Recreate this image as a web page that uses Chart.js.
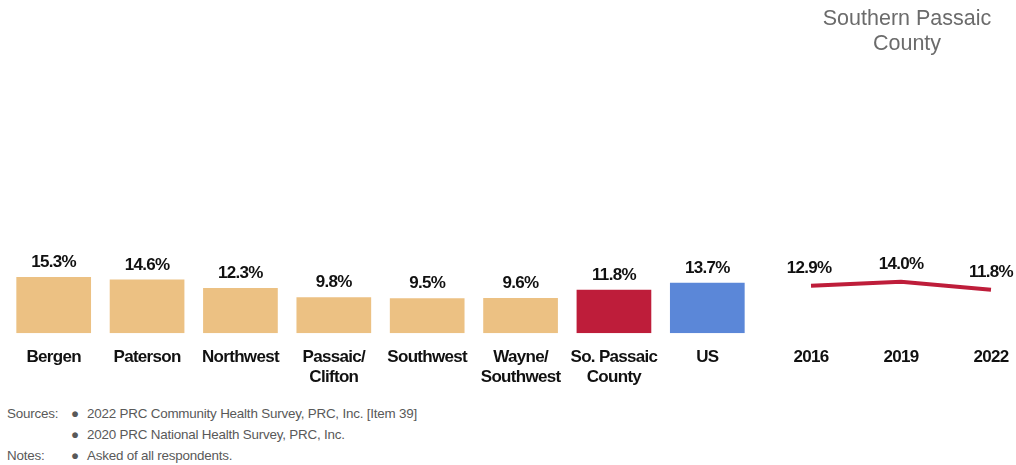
<!DOCTYPE html>
<html>
<head>
<meta charset="utf-8">
<script src="https://cdn.jsdelivr.net/npm/chart.js@4.4.0/dist/chart.umd.min.js"></script>
<style>
  body { margin: 0; background: #fff; width: 1016px; height: 465px; overflow: hidden; position: relative; font-family: 'Liberation Sans', Arial, sans-serif; }
  #barWrap { position: absolute; left: 0; top: 0; width: 760px; height: 402px; }
  #lineWrap { position: absolute; left: 760px; top: 0; width: 270px; height: 402px; }
  #title { position: absolute; left: 790px; top: 6px; width: 234px; text-align: center; color: #6b6b6b; font-size: 21.5px; line-height: 25px; }
  .note { position: absolute; font-size: 13.4px; color: #595959; line-height: 15px; letter-spacing: -0.2px; }
</style>
</head>
<body>
<div id="barWrap"><canvas id="bars"></canvas></div>
<div id="lineWrap"><canvas id="trend"></canvas></div>
<div id="title">Southern Passaic<br>County</div>
<div class="note" style="left:7px; top:406px;">Sources:</div>
<div class="note" style="left:71px; top:406px;">●</div>
<div class="note" style="left:87px; top:406px;">2022 PRC Community Health Survey, PRC, Inc. [Item 39]</div>
<div class="note" style="left:71px; top:427px;">●</div>
<div class="note" style="left:87px; top:427px;">2020 PRC National Health Survey, PRC, Inc.</div>
<div class="note" style="left:7px; top:448px;">Notes:</div>
<div class="note" style="left:71px; top:448px;">●</div>
<div class="note" style="left:87px; top:448px;">Asked of all respondents.</div>
<script>
const areas = [['Bergen'], ['Paterson'], ['Northwest'], ['Passaic/', 'Clifton'], ['Southwest'], ['Wayne/', 'Southwest'], ['So. Passaic', 'County'], ['US']]
const areaValues = [15.3, 14.6, 12.3, 9.8, 9.5, 9.6, 11.8, 13.7]
const areaColors = ['#ecc183', '#ecc183', '#ecc183', '#ecc183', '#ecc183', '#ecc183', '#be1d3a', '#5b87d8']
const years = ['2016', '2019', '2022']
const trendValues = [12.9, 14.0, 11.8]

const yMax = 90.7
const labelFont = { family: "'Liberation Sans', Arial, sans-serif", size: 17, weight: 'bold' }

// tighter letters so the bold labels look like the narrow font of the original
const tightText = {
    id: 'tightText',
    beforeDraw(chart) {
        chart.ctx.letterSpacing = '-0.7px'
    }
}

// draws the percent above every bar / point
const valueLabels = {
    id: 'valueLabels',
    afterDatasetsDraw(chart, args, opts) {
        const ctx = chart.ctx
        const meta = chart.getDatasetMeta(0)
        ctx.save()
        ctx.letterSpacing = '-0.7px'
        ctx.font = 'bold 17px ' + labelFont.family
        ctx.fillStyle = '#111'
        ctx.textAlign = 'center'
        ctx.textBaseline = 'bottom'
        meta.data.forEach((el, i) => {
            const v = chart.data.datasets[0].data[i]
            ctx.fillText(v.toFixed(1) + '%', el.x + (opts.dx ? opts.dx[i] : 0), el.y - opts.gap)
        })
        ctx.restore()
    }
}

new Chart(document.getElementById('bars'), {
    type: 'bar',
    data: {
        labels: areas,
        datasets: [{
            data: areaValues,
            backgroundColor: areaColors,
            categoryPercentage: 1,
            barPercentage: 0.8
        }]
    },
    options: {
        responsive: true,
        maintainAspectRatio: false,
        animation: false,
        layout: { padding: { left: 7, right: 6, top: 0, bottom: 0 } },
        plugins: {
            legend: { display: false },
            tooltip: { enabled: false },
            valueLabels: { gap: 6 }
        },
        scales: {
            x: {
                grid: { display: false, drawTicks: false },
                border: { display: false },
                ticks: { color: '#111', font: labelFont, padding: 14, maxRotation: 0, autoSkip: false }
            },
            y: { display: false, min: 0, max: yMax }
        }
    },
    plugins: [tightText, valueLabels]
});

new Chart(document.getElementById('trend'), {
    type: 'line',
    data: {
        labels: years,
        datasets: [{
            data: trendValues,
            borderColor: '#be1d3a',
            borderWidth: 4,
            pointRadius: 0,
            tension: 0
        }]
    },
    options: {
        responsive: true,
        maintainAspectRatio: false,
        animation: false,
        layout: { padding: { left: 51, right: 39, top: 0, bottom: 20.4 } },
        plugins: {
            legend: { display: false },
            tooltip: { enabled: false },
            valueLabels: { gap: 9, dx: [-2, 0, 0] }
        },
        scales: {
            x: {
                offset: false,
                grid: { display: false, drawTicks: false },
                border: { display: false },
                ticks: { color: '#111', font: labelFont, padding: 14, maxRotation: 0, autoSkip: false }
            },
            y: { display: false, min: 0, max: yMax }
        }
    },
    plugins: [tightText, valueLabels]
});
</script>
</body>
</html>
